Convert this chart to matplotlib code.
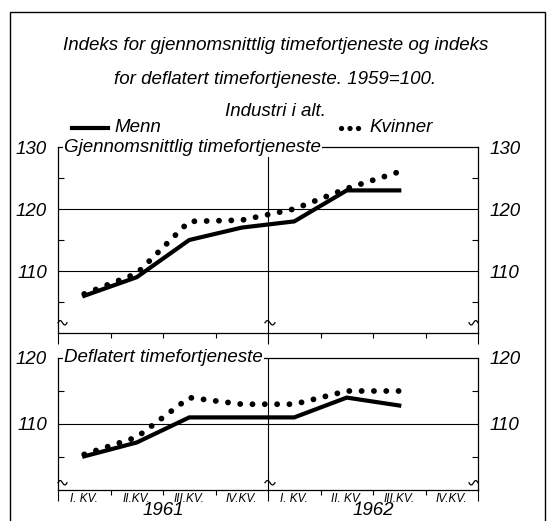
import matplotlib
matplotlib.use('Agg')
import matplotlib.pyplot as plt
import numpy as np
from matplotlib.lines import Line2D
from matplotlib.patches import Rectangle

plt.rcParams['font.family'] = ['Liberation Sans', 'DejaVu Sans']
plt.rcParams['font.style'] = 'italic'

# Data: quarterly indices, 1959 = 100
kvartaler = ['I. KV.', 'II.KV.', 'III.KV.', 'IV.KV.', 'I. KV.', 'II. KV.', 'III.KV.', 'IV.KV.']
aar = ['1961', '1962']
menn_snitt = [106, 109, 115, 117, 118, 123, 123]
kvinner_snitt = [106.3, 109.6, 118, 118.2, 120, 123.3, 126]
menn_defl = [105.1, 107.2, 111, 111, 111, 114, 112.8]
kvinner_defl = [105.4, 108, 114, 113, 113, 115, 115]

W, H = 551, 521
fig = plt.figure(figsize=(W / 100, H / 100), dpi=100)
FS = 13.5

# outer frame
fig.add_artist(Rectangle((10 / W, -0.05), 535 / W, 1.05 - 12 / H, transform=fig.transFigure,
                         fill=False, edgecolor='black', linewidth=1.0))

# titles
fig.text(0.5, 1 - 45 / H, 'Indeks for gjennomsnittlig timefortjeneste og indeks',
         ha='center', va='center', fontsize=FS)
fig.text(0.5, 1 - 80 / H, 'for deflatert timefortjeneste. 1959=100.',
         ha='center', va='center', fontsize=FS)
fig.text(0.5, 1 - 112 / H, 'Industri i alt.', ha='center', va='center', fontsize=FS)

# legend drawn by hand
ly = 1 - 128 / H
fig.add_artist(Line2D([72 / W, 108 / W], [ly, ly], color='black', linewidth=3, transform=fig.transFigure))
fig.text(114 / W, ly, 'Menn', ha='left', va='center', fontsize=FS)
fig.add_artist(Line2D([341 / W, 364 / W], [ly, ly], color='black', linewidth=3.8, linestyle=(0, (0.01, 1.6)),
                      dash_capstyle='round', transform=fig.transFigure))
fig.text(369 / W, ly, 'Kvinner', ha='left', va='center', fontsize=FS)

x = np.arange(len(menn_snitt)) + 0.5


def break_mark(ax, xpos, ypos, side):
    # small wavy mark showing the broken y axis
    ux = 8 / 420
    lo, hi = ax.get_ylim()
    uy = (hi - lo) / (ax.get_position().height * H)
    t = np.linspace(0, 1, 30)
    if side == 'left':
        xs = xpos + t * 9 * ux
    elif side == 'right':
        xs = xpos - t * 9 * ux
    else:
        xs = xpos + (t - 0.3) * 10 * ux
    ys = ypos + 2.2 * uy * np.sin(t * 2 * np.pi)
    ax.plot(xs, ys, color='black', linewidth=0.9, clip_on=False, zorder=5)


def setup_panel(ax, ylo, yhi, grid, minors, label):
    ax.set_xlim(0, 8)
    ax.set_ylim(ylo, yhi)
    for s in ax.spines.values():
        s.set_linewidth(0.9)
    for g in grid:
        ax.axhline(g, color='black', linewidth=0.8, zorder=1)
    ax.axvline(4, color='black', linewidth=0.8, zorder=1)
    major = grid + [yhi]
    ax.set_yticks(major)
    ax.set_yticklabels([str(v) for v in major])
    ax.set_yticks(minors, minor=True)
    ax.tick_params(axis='y', which='major', length=0, pad=8, labelsize=FS,
                   left=True, right=True, labelleft=True, labelright=True)
    ax.tick_params(axis='y', which='minor', direction='in', length=4.5, width=0.8,
                   left=True, right=True)
    ax.set_xticks(range(9))
    ax.tick_params(axis='x', which='major', direction='out', length=3.5, width=0.8,
                   labelbottom=False)
    for i in (0, 4, 8):
        ax.xaxis.get_major_ticks()[i].tick1line.set_markersize(8)
    ax.text(0.12, yhi, label, ha='left', va='center', fontsize=FS,
            bbox=dict(facecolor='white', edgecolor='none', pad=1.0), zorder=6)
    by = ylo + (yhi - ylo) * 0.055
    break_mark(ax, 0, by, 'left')
    break_mark(ax, 4, by, 'mid')
    break_mark(ax, 8, by, 'right')


ax1 = fig.add_axes([58 / W, 1 - 333 / H, 420 / W, 186 / H])
setup_panel(ax1, 100, 130, [110, 120], [105, 115, 125], 'Gjennomsnittlig timefortjeneste')
ax1.plot(x, menn_snitt, color='black', linewidth=3, solid_joinstyle='miter', zorder=3)
ax1.plot(x, kvinner_snitt, color='black', linewidth=4.2, linestyle=(0, (0.01, 2.1)),
         dash_capstyle='round', zorder=4)

ax2 = fig.add_axes([58 / W, 1 - 490 / H, 420 / W, 132 / H])
setup_panel(ax2, 100, 120, [110], [105, 115], 'Deflatert timefortjeneste')
ax2.plot(x, menn_defl, color='black', linewidth=3, solid_joinstyle='miter', zorder=3)
ax2.plot(x, kvinner_defl, color='black', linewidth=4.2, linestyle=(0, (0.01, 2.1)),
         dash_capstyle='round', zorder=4)

# quarter and year labels under the lower panel
ax2.set_xticks(np.arange(8) + 0.5, minor=True)
ax2.set_xticklabels(kvartaler, minor=True)
ax2.tick_params(axis='x', which='minor', length=0, pad=2, labelsize=8.5)
for i, a in enumerate(aar):
    ax2.text(2 + 4 * i, -0.155, a, transform=ax2.get_xaxis_transform(),
             ha='center', va='center', fontsize=13.5)

plt.savefig('out.png', dpi=100)
